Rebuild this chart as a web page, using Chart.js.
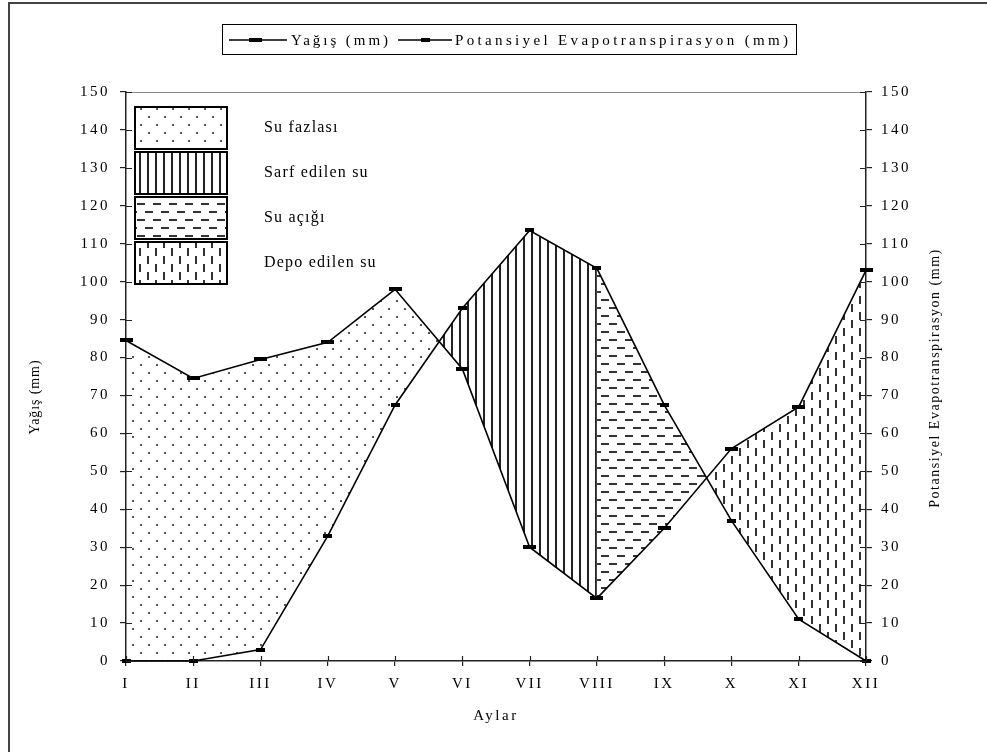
<!DOCTYPE html>
<html>
<head>
<meta charset="utf-8">
<script src="https://cdn.jsdelivr.net/npm/chart.js@4.4.1/dist/chart.umd.min.js"></script>
<style>
  html, body { margin: 0; padding: 0; background: #fff; }
  #wrap { width: 987px; height: 752px; position: relative; }
  canvas { display: block; }
</style>
</head>
<body>
<div id="wrap"><canvas id="c" width="987" height="752"></canvas></div>
<script>
// Monthly water balance: precipitation vs potential evapotranspiration (mm)
const months = ['I', 'II', 'III', 'IV', 'V', 'VI', 'VII', 'VIII', 'IX', 'X', 'XI', 'XII'];
const precipitation = [84.5, 74.5, 79.5, 84, 98, 77, 30, 16.5, 35, 56, 67, 103];
const evapotranspiration = [0, 0, 3, 33, 67.5, 93, 113.5, 103.5, 67.5, 37, 11, 0];
const seriesLabels = ['Yağış (mm)', 'Potansiyel Evapotranspirasyon (mm)'];
const zoneLabels = ['Su fazlası', 'Sarf edilen su', 'Su açığı', 'Depo edilen su'];
const xTitle = 'Aylar';
const leftTitle = 'Yağış (mm)';
const rightTitle = 'Potansiyel Evapotranspirasyon (mm)';
const yMin = 0, yMax = 150, yStep = 10;
// month index where the first shading band hands over to the second
const splitIndex = 7;

const FONT = '"Liberation Serif", "Times New Roman", serif';
const TRACK = '2.5px';

// --- hatch patterns -------------------------------------------------------
function tile(w, h, paint) {
  const c = document.createElement('canvas');
  c.width = w; c.height = h;
  const g = c.getContext('2d');
  paint(g);
  return document.createElement('canvas').getContext('2d').createPattern(c, 'repeat');
}
const dotsPattern = tile(16, 16, g => {
  g.fillStyle = '#555';
  g.fillRect(4, 4, 2, 2);
  g.fillRect(12, 12, 2, 2);
});
const vLinesPattern = tile(8, 8, g => {
  g.fillStyle = '#222';
  g.fillRect(3, 0, 2, 8);
});
const hDashPattern = tile(16, 16, g => {
  g.fillStyle = '#333';
  g.fillRect(1, 3, 8, 2);
  g.fillRect(9, 11, 7, 2);
  g.fillRect(0, 11, 1, 2);
});
const vDashPattern = tile(16, 16, g => {
  g.fillStyle = '#333';
  g.fillRect(3, 0, 2, 8);
  g.fillRect(11, 8, 2, 8);
});
const zonePatterns = [dotsPattern, vLinesPattern, hDashPattern, vDashPattern];

// --- bar-shaped point markers ---------------------------------------------
function barMarker(w, h) {
  const c = document.createElement('canvas');
  c.width = w; c.height = h;
  const g = c.getContext('2d');
  g.fillStyle = '#000';
  g.fillRect(0, 0, w, h);
  return c;
}
const rainMarker = barMarker(13, 4);
const petMarker = barMarker(9, 4);

const firstBand = precipitation.map((v, i) => (i <= splitIndex ? v : null));
const secondBand = precipitation.map((v, i) => (i >= splitIndex ? v : null));

// text with tracking adjusted so it spans a given width
function trackedText(ctx, text, x, y, width) {
  ctx.letterSpacing = '0px';
  const w = ctx.measureText(text).width;
  const s = Math.max(0, (width - w) / (text.length - 1));
  ctx.letterSpacing = s + 'px';
  ctx.fillText(text, x, y);
}

const decorations = {
  id: 'decorations',
  beforeUpdate(chart) { chart.ctx.letterSpacing = TRACK; },
  beforeLayout(chart) { chart.ctx.letterSpacing = TRACK; },
  beforeDraw(chart) {
    const ctx = chart.ctx;
    ctx.save();
    ctx.fillStyle = '#fff';
    ctx.fillRect(0, 0, chart.width, chart.height);
    ctx.restore();
    ctx.letterSpacing = TRACK;
  },
  afterDraw(chart) {
    const ctx = chart.ctx;
    const a = chart.chartArea;
    const sy = chart.scales.y, sy2 = chart.scales.y2, sx = chart.scales.x;
    ctx.save();

    // thin top edge of the plot area
    ctx.strokeStyle = '#888';
    ctx.lineWidth = 1;
    ctx.beginPath();
    ctx.moveTo(a.left, Math.round(a.top) + 0.5);
    ctx.lineTo(a.right, Math.round(a.top) + 0.5);
    ctx.stroke();

    // inner halves of the tick marks
    ctx.strokeStyle = '#222';
    ctx.lineWidth = 1.2;
    ctx.beginPath();
    sy.ticks.forEach(t => {
      const p = Math.round(sy.getPixelForValue(t.value)) + 0.5;
      ctx.moveTo(a.left, p); ctx.lineTo(a.left + 6, p);
    });
    sy2.ticks.forEach(t => {
      const p = Math.round(sy2.getPixelForValue(t.value)) + 0.5;
      ctx.moveTo(a.right - 6, p); ctx.lineTo(a.right, p);
    });
    months.forEach((m, i) => {
      const p = Math.round(sx.getPixelForValue(i)) + 0.5;
      ctx.moveTo(p, a.bottom); ctx.lineTo(p, a.bottom - 5);
    });
    ctx.stroke();

    // rotated y-axis titles
    ctx.fillStyle = '#000';
    ctx.font = '14px ' + FONT;
    ctx.textAlign = 'center';
    ctx.textBaseline = 'middle';
    ctx.save();
    ctx.translate(35, 397);
    ctx.rotate(-Math.PI / 2);
    trackedText(ctx, leftTitle, 0, 0, 74);
    ctx.restore();
    ctx.save();
    ctx.translate(935, 378);
    ctx.rotate(-Math.PI / 2);
    trackedText(ctx, rightTitle, 0, 0, 258);
    ctx.restore();

    // shading key inside the plot
    ctx.textAlign = 'left';
    ctx.font = '16px ' + FONT;
    zoneLabels.forEach((label, i) => {
      const top = 107 + i * 45;
      const h = 42;
      ctx.fillStyle = '#fff';
      ctx.fillRect(135, top, 92, h);
      ctx.fillStyle = zonePatterns[i];
      ctx.fillRect(135, top, 92, h);
      ctx.strokeStyle = '#000';
      ctx.lineWidth = 2;
      ctx.strokeRect(135, top, 92, h);
      ctx.fillStyle = '#000';
      ctx.letterSpacing = '1.2px';
      ctx.fillText(label, 264, top + h / 2);
    });

    // series legend box at the top
    ctx.letterSpacing = '0px';
    ctx.strokeStyle = '#000';
    ctx.lineWidth = 1;
    ctx.strokeRect(222.5, 24.5, 574, 30);
    const ly = 40;
    ctx.lineWidth = 1.5;
    ctx.beginPath();
    ctx.moveTo(229, ly); ctx.lineTo(287, ly);
    ctx.moveTo(398, ly); ctx.lineTo(452, ly);
    ctx.stroke();
    ctx.drawImage(rainMarker, 256 - 7, ly - 2);
    ctx.drawImage(petMarker, 425 - 4, ly - 2);
    ctx.fillStyle = '#000';
    ctx.font = '15px ' + FONT;
    ctx.textAlign = 'left';
    trackedText(ctx, seriesLabels[0], 291, ly + 1, 97);
    trackedText(ctx, seriesLabels[1], 455, ly + 1, 333);

    // outer frame
    ctx.strokeStyle = '#444';
    ctx.lineWidth = 2;
    ctx.beginPath();
    ctx.moveTo(9, chart.height); ctx.lineTo(9, 3); ctx.lineTo(chart.width, 3);
    ctx.stroke();

    ctx.restore();
    ctx.letterSpacing = TRACK;
  }
};

const tickFont = { family: FONT, size: 15 };

new Chart(document.getElementById('c'), {
  type: 'line',
  data: {
    labels: months,
    datasets: [
      {
        label: seriesLabels[0],
        data: precipitation,
        yAxisID: 'y',
        borderColor: '#000',
        borderWidth: 1.6,
        pointStyle: rainMarker,
        pointRadius: 5,
        fill: false,
        clip: false,
        order: 0
      },
      {
        label: seriesLabels[1],
        data: evapotranspiration,
        yAxisID: 'y2',
        borderColor: '#000',
        borderWidth: 1.6,
        pointStyle: petMarker,
        pointRadius: 5,
        fill: false,
        clip: false,
        order: 1
      },
      {
        label: zoneLabels[0] + ' / ' + zoneLabels[1],
        data: firstBand,
        yAxisID: 'y',
        borderColor: 'rgba(0,0,0,0)',
        borderWidth: 0,
        pointRadius: 0,
        spanGaps: false,
        fill: { target: 1, above: dotsPattern, below: vLinesPattern },
        order: 5
      },
      {
        label: zoneLabels[2] + ' / ' + zoneLabels[3],
        data: secondBand,
        yAxisID: 'y',
        borderColor: 'rgba(0,0,0,0)',
        borderWidth: 0,
        pointRadius: 0,
        spanGaps: false,
        fill: { target: 1, above: vDashPattern, below: hDashPattern },
        order: 6
      }
    ]
  },
  options: {
    responsive: false,
    animation: false,
    devicePixelRatio: 1,
    layout: { padding: { top: 92, left: 0, right: 0, bottom: 0 } },
    plugins: {
      legend: { display: false },
      tooltip: { enabled: false }
    },
    elements: { line: { tension: 0 } },
    scales: {
      x: {
        offset: false,
        grid: { drawOnChartArea: false, tickLength: 5, color: '#222', lineWidth: 1.2 },
        border: { color: '#222', width: 1.5 },
        ticks: { font: tickFont, color: '#000', padding: 9, maxRotation: 0, autoSkip: false },
        title: { display: true, text: xTitle, font: tickFont, color: '#000', padding: { top: 0, bottom: 27 } },
        afterFit(s) { s.height = 91; }
      },
      y: {
        position: 'left',
        min: yMin, max: yMax,
        grid: { drawOnChartArea: false, tickLength: 6, color: '#222', lineWidth: 1.2 },
        border: { color: '#222', width: 1.5 },
        ticks: { stepSize: yStep, font: tickFont, color: '#000', padding: 10 },
        afterFit(s) { s.width = 126; }
      },
      y2: {
        position: 'right',
        min: yMin, max: yMax,
        grid: { drawOnChartArea: false, tickLength: 6, color: '#222', lineWidth: 1.2 },
        border: { color: '#222', width: 1.5 },
        ticks: { stepSize: yStep, font: tickFont, color: '#000', padding: 9 },
        afterFit(s) { s.width = 121; }
      }
    }
  },
  plugins: [decorations]
});
</script>
</body>
</html>
